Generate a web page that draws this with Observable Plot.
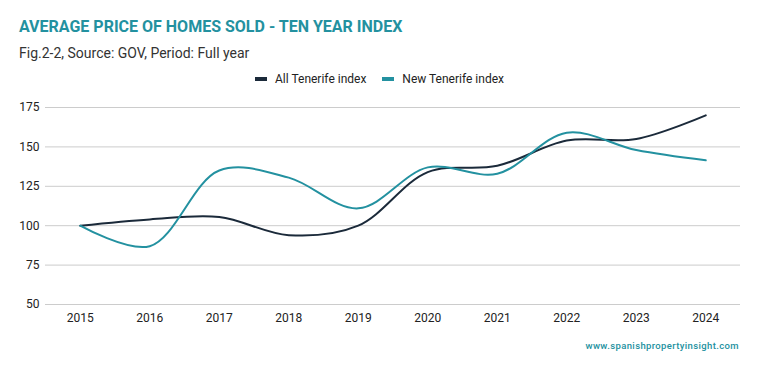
<!DOCTYPE html>
<html>
<head>
<meta charset="utf-8">
<script src="https://cdn.jsdelivr.net/npm/d3@7"></script>
<script src="https://cdn.jsdelivr.net/npm/@observablehq/plot@0.6"></script>
<style>
  body { margin: 0; background: #fff; font-family: Roboto, sans-serif; }
  #wrap { position: relative; width: 759px; height: 371px; }
  #title { position: absolute; left: 19px; top: 17px; font-size: 16px; font-weight: 700; color: #2391a0; white-space: nowrap; }
  #sub { position: absolute; left: 19px; top: 45px; font-size: 14px; color: #333; white-space: nowrap; }
  #legend { position: absolute; left: 0; width: 759px; top: 72px; text-align: center; font-size: 12px; color: #222; white-space: nowrap; }
  #legend span.sw { display: inline-block; width: 12px; height: 4px; vertical-align: middle; margin-right: 8px; position: relative; top: -1px; }
  #legend span.item { margin: 0 8px; }
  #chart { position: absolute; left: 0; top: 95px; }
  #foot { position: absolute; right: 20px; top: 340px; font-size: 9.5px; font-weight: 500; color: #2391a0; letter-spacing: 0.37px; white-space: nowrap; }
</style>
</head>
<body>
<div id="wrap">
  <div id="title">AVERAGE PRICE OF HOMES SOLD - TEN YEAR INDEX</div>
  <div id="sub">Fig.2-2, Source: GOV, Period: Full year</div>
  <div id="legend"></div>
  <div id="chart"></div>
  <div id="foot">www.spanishpropertyinsight.com</div>
</div>
<script>
const years = ["2015","2016","2017","2018","2019","2020","2021","2022","2023","2024"];
const allTenerife = [100, 104, 105.5, 94, 100, 134, 138, 154, 155, 170];
const newTenerife = [100, 87, 135, 130.5, 111, 137, 133, 159, 148, 141.5];
const seriesNames = ["All Tenerife index", "New Tenerife index"];
const seriesColors = ["#1b2a3a", "#2391a0"];
const yTicks = [50, 75, 100, 125, 150, 175];

const data = [];
years.forEach((yr, i) => {
  data.push({year: yr, value: allTenerife[i], series: seriesNames[0]});
  data.push({year: yr, value: newTenerife[i], series: seriesNames[1]});
});

const legend = document.getElementById("legend");
seriesNames.forEach((n, i) => {
  const s = document.createElement("span");
  s.className = "item";
  s.innerHTML = `<span class="sw" style="background:${seriesColors[i]}"></span>${n}`;
  legend.appendChild(s);
});

const chart = Plot.plot({
  width: 759,
  height: 235,
  marginLeft: 45,
  marginRight: 19,
  marginTop: 12,
  marginBottom: 26,
  style: { fontFamily: "Roboto, sans-serif", fontSize: "12px", color: "#222", background: "#fff" },
  x: { type: "point", domain: years, padding: 0.5, round: false, label: null },
  y: { domain: [50, 175], ticks: yTicks, label: null },
  color: { domain: seriesNames, range: seriesColors },
  marks: [
    Plot.ruleY(yTicks, { stroke: "#cccccc", strokeWidth: 1 }),
    Plot.axisX({ tickSize: 0, tickPadding: 9, fontSize: 12, fill: "#222" }),
    Plot.axisY({ ticks: yTicks, tickSize: 0, tickPadding: 6, fontSize: 12, fill: "#222" }),
    Plot.line(data, { x: "year", y: "value", z: "series", stroke: "series", strokeWidth: 2, curve: "catmull-rom" })
  ]
});
document.getElementById("chart").appendChild(chart);
</script>
</body>
</html>
